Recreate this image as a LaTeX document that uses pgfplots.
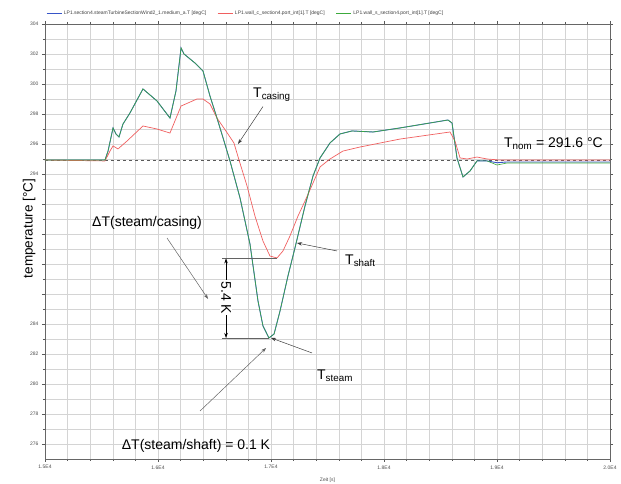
\documentclass[border=0pt]{standalone}
\usepackage{fontspec}
\setmainfont{Liberation Sans}
\usepackage{pgfplots}
\pgfplotsset{compat=1.18}
\usetikzlibrary{arrows.meta}
\definecolor{cblue}{RGB}{55,85,200}
\definecolor{cred}{RGB}{240,95,95}
\definecolor{cgreen}{RGB}{60,170,60}
\definecolor{cgrid}{RGB}{212,212,212}
\definecolor{cann}{RGB}{60,60,60}
\begin{document}
\begin{tikzpicture}
\begin{axis}[
  name=ax, at={(0,0)}, anchor=south west,
  scale only axis, width=565pt, height=435pt,
  xmin=15000, xmax=20000, ymin=275, ymax=304,
  scaled x ticks=false, scaled y ticks=false,
  xtick={15000,16000,...,20000},
  xticklabels={1.5E4,1.6E4,1.7E4,1.8E4,1.9E4,2.0E4},
  minor x tick num=4,
  ytick={276,278,...,304},
  yticklabels={276,278,280,282,284,{},{},{},{},294,296,298,300,302,304},
  minor y tick num=1,
  grid=both,
  major grid style={cgrid, line width=0.5pt},
  minor grid style={cgrid, line width=0.5pt},
  tick align=outside, major tick length=3pt, minor tick length=2pt,
  tick style={black!65, line width=0.4pt},
  axis line style={black!60, line width=0.6pt},
  /pgf/number format/assume math mode=true,
  xticklabel style={font=\fontsize{5}{6}\selectfont, text=black!70},
  yticklabel style={font=\fontsize{5}{6}\selectfont, text=black!70},
  xlabel={Zeit [s]},
  xlabel style={font=\fontsize{5}{6}\selectfont, text=black!70, at={(axis description cs:0.5,0)}, anchor=center, yshift=-21pt},
  ylabel={temperature [°C]},
  ylabel style={font=\fontsize{13.5}{15}\selectfont, at={(axis description cs:-0.028,0.53)}, anchor=center},
  legend style={draw=none, fill=none, at={(axis description cs:0.0,1.0)}, anchor=south west,
    legend columns=3, font=\fontsize{5}{6}\selectfont, text=black!75, inner sep=0pt, yshift=6pt, xshift=1pt,
    /tikz/every even column/.append style={column sep=9pt}},
  legend image code/.code={\draw[#1, line width=0.7pt] (0pt,0pt) -- (15pt,0pt);},
]
\addplot[forget plot, dashed, black!65, line width=0.6pt] coordinates {(15000,294.93) (20000,294.93)};
% steam (blue)
\addplot[cblue, line width=0.9pt] coordinates {
(15000,294.93) (15531,294.93) (15558,295.53) (15602,297.07) (15628,296.67) (15655,296.47)
(15690,297.33) (15752,298.07) (15867,299.67) (15991,298.87) (16106,297.73) (16159,299.53)
(16204,302.4) (16230,302.0) (16327,301.4) (16398,300.87) (16460,299.2) (16522,297.73)
(16584,296.2) (16637,294.87) (16726,292.4) (16814,289.33) (16885,285.53) (16929,283.87)
(16982,283.07) (17027,283.33) (17080,284.87) (17150,287.2) (17212,289.07) (17301,291.87)
(17372,293.87) (17434,295.07) (17522,296.07) (17611,296.67) (17717,296.87) (17903,296.8)
(18142,297.07) (18566,297.6) (18602,297.4) (18646,295.07) (18699,293.8) (18761,294.2)
(18823,294.87) (18912,294.87) (19000,294.75) (19088,294.8) (20000,294.8)};
% casing (red)
\addplot[cred, line width=0.7pt] coordinates {
(15000,294.93) (15531,294.87) (15575,295.53) (15602,295.87) (15646,295.67) (15726,296.2)
(15867,297.2) (15991,297.0) (16106,296.73) (16204,298.53) (16345,299.0) (16398,299.0)
(16460,298.67) (16522,297.73) (16619,296.67) (16672,296.07) (16717,294.93) (16788,293.2)
(16858,291.2) (16929,289.53) (16991,288.53) (17053,288.4) (17106,288.87) (17168,289.87)
(17239,291.2) (17301,292.2) (17372,293.4) (17434,294.47) (17522,295.0) (17637,295.53)
(17788,295.8) (18142,296.33) (18584,296.8) (18628,296.2) (18673,295.07) (18735,295.0)
(18823,295.13) (18912,295.0) (19027,294.93) (20000,294.93)};
% shaft (green)
\addplot[cgreen, line width=0.6pt] coordinates {
(15000,294.93) (15531,294.93) (15558,295.53) (15602,297.07) (15628,296.67) (15655,296.47)
(15690,297.33) (15752,298.07) (15867,299.67) (15991,298.87) (16106,297.73) (16159,299.53)
(16204,302.4) (16230,302.0) (16327,301.4) (16398,300.87) (16460,299.2) (16522,297.73)
(16584,296.2) (16637,294.87) (16726,292.4) (16814,289.33) (16885,285.53) (16929,283.87)
(16982,283.07) (17027,283.33) (17080,284.87) (17150,287.2) (17212,289.07) (17301,291.87)
(17372,293.87) (17434,295.07) (17522,296.07) (17611,296.67) (17717,296.87) (17903,296.8)
(18142,297.07) (18566,297.6) (18602,297.4) (18646,295.07) (18699,293.8) (18761,294.2)
(18823,294.87) (18912,294.87) (19000,294.6) (19088,294.73) (20000,294.73)};
\legend{LP1.section4.steamTurbineSectionWind2\_1.medium\_a.T [degC],
        LP1.wall\_c\_section4.port\_int[1].T [degC],
        LP1.wall\_s\_section4.port\_int[1].T [degC]}
% annotations
\node[anchor=west, font=\fontsize{14}{16}\selectfont, inner sep=0pt] at (axis cs:16841,299.3) {T\textsubscript{casing}};
\draw[cann, line width=0.5pt, -{Stealth[length=5pt,width=3.5pt]}] (axis cs:16929,298.5) -- (axis cs:16708,296.0);
\node[font=\fontsize{14}{16}\selectfont, inner sep=0pt] at (axis cs:15903,290.73) {ΔT(steam/casing)};
\draw[cann!80, line width=0.5pt, -{Stealth[length=5pt,width=3.5pt]}] (axis cs:16080,289.73) -- (axis cs:16443,285.67);
\node[anchor=west, font=\fontsize{14}{16}\selectfont, inner sep=0pt] at (axis cs:17655,288.2) {T\textsubscript{shaft}};
\draw[cann, line width=0.5pt, -{Stealth[length=5pt,width=3.5pt]}] (axis cs:17584,288.87) -- (axis cs:17230,289.4);
\node[anchor=west, font=\fontsize{14}{16}\selectfont, inner sep=0pt] at (axis cs:17407,280.53) {T\textsubscript{steam}};
\draw[cann, line width=0.5pt, -{Stealth[length=5pt,width=3.5pt]}] (axis cs:17363,282.07) -- (axis cs:17000,283.07);
\node[font=\fontsize{14}{16}\selectfont, inner sep=0pt] at (axis cs:16336,275.9) {ΔT(steam/shaft) = 0.1 K};
\draw[cann!80, line width=0.5pt, -{Stealth[length=5pt,width=3.5pt]}] (axis cs:16372,278.2) -- (axis cs:16956,282.4);
\node[anchor=east, font=\fontsize{14}{16}\selectfont, inner sep=0pt] at (axis cs:19938,296.0) {T\textsubscript{nom} = 291.6 °C};
\draw[cann!80, line width=0.6pt] (axis cs:16566,288.37) -- (axis cs:17053,288.37);
\draw[cann!80, line width=0.6pt] (axis cs:16566,283.07) -- (axis cs:16982,283.07);
\draw[black, line width=0.6pt, {Stealth[length=5pt,width=3.5pt]}-{Stealth[length=5pt,width=3.5pt]}] (axis cs:16602,288.37) -- (axis cs:16602,283.07);
\node[rotate=-90, fill=white, inner sep=1pt, font=\fontsize{14}{16}\selectfont] at (axis cs:16602,285.75) {5.4 K};
\end{axis}
\pgfresetboundingbox
\path (-45pt,-25pt) rectangle (576pt,459pt);
\end{tikzpicture}
\end{document}
